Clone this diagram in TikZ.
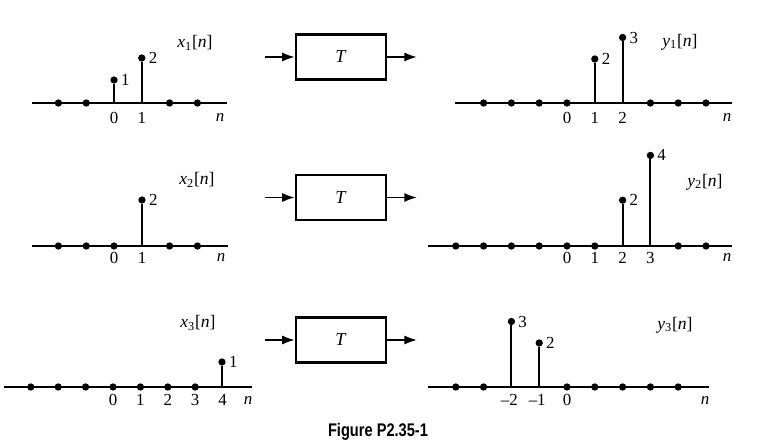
\documentclass[tikz,border=0pt]{standalone}
\usepackage{fontspec}
\setmainfont{Liberation Serif}
\newfontfamily\capfont[FakeStretch=0.8]{Liberation Sans}
\usetikzlibrary{arrows.meta,positioning}

\begin{document}
\begin{tikzpicture}[x=0.025cm,y=-0.025cm]
    \tikzstyle{dot}=[circle,fill=black,minimum size=5.2pt,inner sep=0pt]
    \tikzstyle{axis}=[line width=1.1pt]
    \tikzstyle{stem}=[line width=1.5pt]
    \tikzstyle{val}=[inner sep=0pt,font=\fontsize{12}{14}\selectfont]
    \tikzstyle{tick}=[inner sep=0pt,font=\fontsize{12}{14}\selectfont]
    \tikzstyle{sig}=[inner sep=0pt,font=\fontsize{12.5}{14}\selectfont]
    \tikzstyle{sys}=[draw,line width=1.7pt,minimum width=64pt,minimum height=32pt,font=\fontsize{13}{15}\selectfont]
    \tikzstyle{flow}=[-{Latex[length=9pt,width=6.5pt]},line width=1.4pt]

    \useasboundingbox (0,0) rectangle (763,447);

    % x1[n]
    \coordinate (x1l) at (32,103);
    \coordinate (x1r) at (227,103);
    \draw[axis] (x1l) -- (x1r);
    \foreach \k in {-2,-1,2,3}
      \node[dot] (x1d\k) at ({114+27.8*(\k)},103) {};
    \foreach \k/\v in {0/1,1/2} {
      \coordinate (x1b\k) at ({114+27.8*(\k)},103);
      \node[dot] (x1t\k) at ({114+27.8*(\k)},{102-22*(\v)}) {};
      \draw[stem] (x1b\k) -- (x1t\k);
      \node[val, right=2pt of x1t\k] (x1v\k) {\v};
      \node[tick] (x1n\k) at ({114+27.8*(\k)},118) {\k};
    }
    \node[tick] (x1n) at (220,118) {\textit{n}};
    \node[sig] (x1s) at (195,43) {\textit{x}\textsubscript{1}[\textit{n}]};

    % y1[n]
    \coordinate (y1l) at (455,103);
    \coordinate (y1r) at (732,103);
    \draw[axis] (y1l) -- (y1r);
    \foreach \k in {-3,-2,-1,0,3,4,5}
      \node[dot] (y1d\k) at ({567+27.8*(\k)},103) {};
    \foreach \k/\v in {1/2,2/3} {
      \coordinate (y1b\k) at ({567+27.8*(\k)},103);
      \node[dot] (y1t\k) at ({567+27.8*(\k)},{102-21.5*(\v)}) {};
      \draw[stem] (y1b\k) -- (y1t\k);
      \node[val, right=2pt of y1t\k] (y1v\k) {\v};
    }
    \foreach \k in {0,1,2}
      \node[tick] (y1n\k) at ({567+27.8*(\k)},118) {\k};
    \node[tick] (y1n) at (727,118) {\textit{n}};
    \node[sig] (y1s) at (680,42) {\textit{y}\textsubscript{1}[\textit{n}]};

    % x2[n]
    \coordinate (x2l) at (32,246);
    \coordinate (x2r) at (228,246);
    \draw[axis] (x2l) -- (x2r);
    \foreach \k in {-2,-1,0,2,3}
      \node[dot] (x2d\k) at ({114+27.8*(\k)},246) {};
    \coordinate (x2b1) at (142,246);
    \node[dot] (x2t1) at (142,200) {};
    \draw[stem] (x2b1) -- (x2t1);
    \node[val, right=2pt of x2t1] (x2v1) {2};
    \node[tick] (x2n0) at (114,258) {0};
    \node[tick] (x2n1) at (142,258) {1};
    \node[tick] (x2n) at (221,258) {\textit{n}};
    \node[sig] (x2s) at (197,180) {\textit{x}\textsubscript{2}[\textit{n}]};

    % y2[n]
    \coordinate (y2l) at (428,246);
    \coordinate (y2r) at (732,246);
    \draw[axis] (y2l) -- (y2r);
    \foreach \k in {-4,-3,-2,-1,0,1,4,5}
      \node[dot] (y2d\k) at ({567+27.8*(\k)},246) {};
    \foreach \k/\v in {2/2,3/4} {
      \coordinate (y2b\k) at ({567+27.8*(\k)},246);
      \node[dot] (y2t\k) at ({567+27.8*(\k)},{245-22.4*(\v)}) {};
      \draw[stem] (y2b\k) -- (y2t\k);
      \node[val, right=2pt of y2t\k] (y2v\k) {\v};
    }
    \foreach \k in {0,1,2,3}
      \node[tick] (y2n\k) at ({567+27.8*(\k)},258) {\k};
    \node[tick] (y2n) at (727,258) {\textit{n}};
    \node[sig] (y2s) at (705,182) {\textit{y}\textsubscript{2}[\textit{n}]};

    % x3[n]
    \coordinate (x3l) at (4,387);
    \coordinate (x3r) at (252,387);
    \draw[axis] (x3l) -- (x3r);
    \foreach \k in {-3,-2,-1,0,1,2,3}
      \node[dot] (x3d\k) at ({113+27.4*(\k)},387) {};
    \coordinate (x3b4) at (222,387);
    \node[dot] (x3t4) at (222,362) {};
    \draw[stem] (x3b4) -- (x3t4);
    \node[val, right=2pt of x3t4] (x3v4) {1};
    \foreach \k in {0,1,2,3,4}
      \node[tick] (x3n\k) at ({113+27.4*(\k)},400) {\k};
    \node[tick] (x3n) at (248,401) {\textit{n}};
    \node[sig] (x3s) at (198,323) {\textit{x}\textsubscript{3}[\textit{n}]};

    % y3[n]
    \coordinate (y3l) at (428,387);
    \coordinate (y3r) at (709,387);
    \draw[axis] (y3l) -- (y3r);
    \foreach \k in {-4,-3,0,1,2,3,4}
      \node[dot] (y3d\k) at ({567+27.8*(\k)},387) {};
    \foreach \k/\v/\i/\t in {-2/3/a/--2,-1/2/b/--1} {
      \coordinate (y3b\i) at ({567+27.8*(\k)},387);
      \node[dot] (y3t\i) at ({567+27.8*(\k)},{386-21.5*(\v)}) {};
      \draw[stem] (y3b\i) -- (y3t\i);
      \node[val, right=2pt of y3t\i] (y3v\i) {\v};
      \node[tick] (y3n\i) at ({565+27.8*(\k)},400) {\t};
    }
    \node[tick] (y3n0) at (567,400) {0};
    \node[tick] (y3n) at (705,401) {\textit{n}};
    \node[sig] (y3s) at (675,325) {\textit{y}\textsubscript{3}[\textit{n}]};

    % systems
    \node[sys] (T1) at (341,57) {\textit{T}};
    \node[sys] (T2) at (341,197.5) {\textit{T}};
    \node[sys] (T3) at (341,340) {\textit{T}};
    \coordinate (in1) at (265,57);
    \coordinate (out1) at (417,57);
    \coordinate (in2) at (265,197.5);
    \coordinate (out2) at (417,197.5);
    \coordinate (in3) at (265,340);
    \coordinate (out3) at (417,340);
    \draw[flow] (in1) -- (T1);
    \draw[flow] (T1) -- (out1);
    \draw[flow] (in2) -- (T2);
    \draw[flow] (T2) -- (out2);
    \draw[flow] (in3) -- (T3);
    \draw[flow] (T3) -- (out3);

    \node[font=\capfont\bfseries\fontsize{13}{15}\selectfont] (cap) at (378,432) {Figure P2.35-1};
\end{tikzpicture}
\end{document}
